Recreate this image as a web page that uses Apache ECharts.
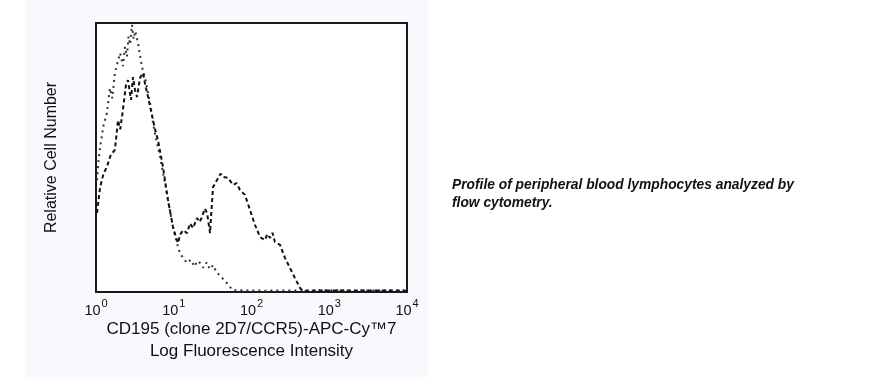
<!DOCTYPE html>
<html lang="en">
<head>
    <meta charset="UTF-8">
    <title>CD195 Flow Cytometry Profile</title>
    <style>
        body { margin: 0; background: #ffffff; }
        #chart { width: 876px; height: 377px; }
    </style>
    <script src="https://cdn.jsdelivr.net/npm/echarts@6/dist/echarts.min.js"></script>
</head>
<body>
<div id="chart"></div>
<script>
    // Fluorescence intensity (log scale) and relative cell counts
    const controlX = [1.03, 1.08, 1.13, 1.25, 1.38, 1.51, 1.62, 1.75, 1.92, 2.04, 2.22, 2.36, 2.5, 2.62, 2.75, 2.9, 3.05, 3.2, 3.47, 3.68, 3.91, 4.25, 4.67, 5.05, 5.41, 5.8, 6.27, 6.8, 7.27, 7.8, 8.43, 9.1, 9.78, 10.8, 12.0, 13.3, 14.8, 16.5, 18.5, 20.0, 21.8, 24.0, 26.5, 29.0, 32.0, 36.0, 40.0, 44.0, 48.4, 53.0, 57.8, 80, 150, 300, 600, 1000, 2000, 4000, 7000, 10000];
    const controlY = [41.6, 49.0, 53.9, 62.0, 66.5, 75.8, 72.0, 81.5, 86.0, 88.8, 84.0, 91.1, 87.5, 95.0, 92.0, 99.3, 94.0, 97.0, 92.6, 88.0, 83.6, 80.0, 74.0, 69.0, 62.8, 58.0, 53.9, 49.0, 44.2, 40.0, 34.2, 29.0, 24.2, 19.0, 14.5, 12.5, 10.8, 12.0, 9.5, 11.5, 10.8, 9.0, 11.0, 8.5, 10.0, 7.1, 6.0, 4.5, 3.3, 1.8, 0.7, 0.6, 0.5, 0.6, 0.5, 0.7, 0.5, 0.6, 0.5, 0.5];

    const stainedX = [1.03, 1.13, 1.25, 1.38, 1.55, 1.75, 1.92, 2.05, 2.22, 2.43, 2.58, 2.82, 2.99, 3.18, 3.37, 3.68, 4.02, 4.3, 4.67, 5.05, 5.41, 5.8, 6.27, 6.8, 7.27, 7.8, 8.43, 9.1, 9.78, 10.5, 11.3, 12.2, 13.2, 14.8, 16.2, 17.7, 19.9, 21.5, 23.1, 25.0, 26.8, 29.3, 30.5, 32.0, 36.0, 40.0, 43.0, 49.9, 57.8, 64.0, 71.1, 82.4, 95.6, 111, 129, 149, 160, 173, 186, 200, 233, 270, 313, 362, 421, 459, 600, 1000, 2000, 4000, 10000];
    const stainedY = [29.4, 39.0, 44.0, 46.5, 51.0, 52.8, 63.9, 60.5, 67.7, 77.0, 78.8, 71.4, 79.9, 75.0, 72.5, 79.6, 81.4, 77.0, 72.5, 68.0, 63.9, 60.0, 56.5, 51.0, 46.5, 40.5, 34.2, 29.0, 24.2, 21.0, 18.2, 21.5, 23.0, 21.9, 25.5, 23.8, 27.5, 26.0, 27.9, 31.0, 29.4, 21.9, 30.0, 39.0, 41.6, 44.0, 42.8, 42.4, 39.8, 40.5, 37.9, 36.1, 30.5, 24.9, 20.4, 19.3, 21.5, 20.1, 22.0, 18.6, 17.5, 12.6, 8.9, 5.2, 1.5, 0.4, 0.5, 0.6, 0.5, 0.6, 0.5];

    const xTickPowers = [0, 1, 2, 3, 4];

    function pairs(xs, ys) {
        return xs.map((x, i) => [x, ys[i]]);
    }

    const font = '"Liberation Sans", Arial, sans-serif';

    const chart = echarts.init(document.getElementById('chart'));
    chart.setOption({
        animation: false,
        backgroundColor: '#ffffff',
        graphic: [
            {
                type: 'rect', z: -10, silent: true,
                shape: { x: 25, y: 0, width: 403, height: 377 },
                style: { fill: '#f8f9fc' }
            },
            {
                type: 'text', left: 452, top: 176,
                style: {
                    text: 'Profile of peripheral blood lymphocytes analyzed by\nflow cytometry.',
                    font: 'italic bold 13.8px "Liberation Sans", Arial, sans-serif',
                    fill: '#111111',
                    lineHeight: 18
                }
            }
        ],
        grid: {
            left: 96, right: 469, top: 23, bottom: 85,
            show: true, borderColor: '#1a1a1a', borderWidth: 2,
            backgroundColor: '#ffffff'
        },
        xAxis: {
            type: 'log', logBase: 10, min: 1, max: 10000,
            name: 'CD195 (clone 2D7/CCR5)-APC-Cy\u21227\nLog Fluorescence Intensity',
            nameLocation: 'middle', nameGap: 26, nameMoveOverlap: false,
            nameTextStyle: {
                fontFamily: font,
                fontSize: 17, color: '#111111', lineHeight: 22
            },
            axisLine: { show: false },
            axisTick: { show: false },
            splitLine: { show: false },
            axisLabel: {
                margin: 6,
                formatter: function (v) {
                    const p = Math.round(Math.log10(v));
                    return xTickPowers.includes(p) ? '{b|10}{s|' + p + '}' : '';
                },
                rich: {
                    b: { fontFamily: font, fontSize: 14.5, color: '#111111', padding: [5, 0, 0, 0] },
                    s: { fontFamily: font, fontSize: 11, color: '#111111', verticalAlign: 'top', padding: [0, 0, 0, 1] }
                }
            }
        },
        yAxis: {
            type: 'value', min: 0, max: 100,
            name: 'Relative Cell Number',
            nameLocation: 'middle', nameGap: 36,
            nameTextStyle: {
                fontFamily: font,
                fontSize: 16, color: '#111111'
            },
            axisLine: { show: false },
            axisTick: { show: false },
            axisLabel: { show: false },
            splitLine: { show: false }
        },
        series: [
            {
                name: 'Isotype control', type: 'line', symbol: 'none',
                data: pairs(controlX, controlY),
                lineStyle: { color: '#333333', width: 2, type: [2, 4] }
            },
            {
                name: 'CD195', type: 'line', symbol: 'none',
                data: pairs(stainedX, stainedY),
                lineStyle: { color: '#111111', width: 2, type: [4, 3] }
            }
        ]
    });
</script>
</body>
</html>
